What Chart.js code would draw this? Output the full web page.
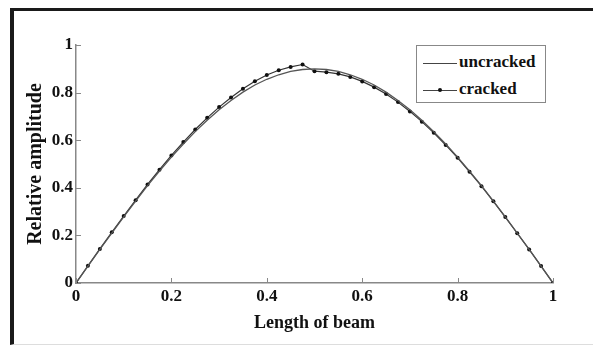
<!DOCTYPE html>
<html>
<head>
<meta charset="utf-8">
<script src="https://cdn.jsdelivr.net/npm/chart.js@4/dist/chart.umd.min.js"></script>
<style>
html,body{margin:0;padding:0;background:#fff}
#frame{position:absolute;left:10px;top:8px;width:583px;height:337px;border-top:3px solid #1a1a1a;border-left:4px solid #1a1a1a;border-bottom:1px solid #ddd;box-sizing:border-box}
#wrap{position:absolute;left:0;top:0;width:593px;height:345px}
#legend{position:absolute;left:416px;top:45px;width:130px;height:58px;border:1px solid #888;background:#fff;box-sizing:border-box;font:bold 17px "Liberation Serif",serif;color:#111}
.row{position:absolute;left:6px;height:20px;line-height:20px;white-space:nowrap}
.ln{display:inline-block;position:relative;width:34px;height:1px;background:#444;vertical-align:middle;margin-right:2px}
.dot{position:absolute;left:15px;top:-2px;width:4px;height:4px;border-radius:50%;background:#111}
</style>
</head>
<body>
<div id="frame"></div>
<div id="wrap"><canvas id="c" width="593" height="345"></canvas></div>
<div id="legend">
<div class="row" style="top:6px"><span class="ln"></span>uncracked</div>
<div class="row" style="top:33px"><span class="ln"><span class="dot"></span></span>cracked</div>
</div>
<script>
// positions along the beam (every 0.025)
const xs=[0,0.025,0.05,0.075,0.1,0.125,0.15,0.175,0.2,0.225,0.25,0.275,0.3,0.325,0.35,0.375,0.4,0.425,0.45,0.475,0.5,
0.525,0.55,0.575,0.6,0.625,0.65,0.675,0.7,0.725,0.75,0.775,0.8,0.825,0.85,0.875,0.9,0.925,0.95,0.975,1]

const uncracked=[0,0.071,0.141,0.210,0.278,0.344,0.409,0.470,0.529,0.584,0.636,0.684,0.728,0.767,0.802,0.832,0.856,0.875,0.889,0.897,0.900,
0.897,0.889,0.875,0.856,0.832,0.802,0.767,0.728,0.684,0.636,0.584,0.529,0.470,0.409,0.344,0.278,0.210,0.141,0.071,0]

const cracked=[0,0.072,0.143,0.213,0.281,0.348,0.414,0.476,0.536,0.592,0.645,0.694,0.739,0.779,0.816,0.848,0.874,0.894,0.908,0.918,0.890,
0.886,0.879,0.866,0.847,0.823,0.794,0.760,0.721,0.678,0.631,0.580,0.526,0.467,0.407,0.343,0.277,0.209,0.141,0.071,0]

const tickVals=[0,0.2,0.4,0.6,0.8,1]

const labelFont={family:"'Liberation Serif', serif",size:17,weight:"bold"}

// "0.2" style labels, "0" and "1" without decimals
function fmt(v){return String(Number(v.toFixed(1)))}

// ticks drawn inward, like the original
const inwardTicks={
id:"inwardTicks",
afterDraw(chart){
const ctx=chart.ctx
const a=chart.chartArea
const sx=chart.scales.x
const sy=chart.scales.y
ctx.save()
ctx.strokeStyle="#888"
ctx.lineWidth=1
tickVals.forEach(v=>{
let px=Math.round(sx.getPixelForValue(v))+0.5
ctx.beginPath();ctx.moveTo(px,a.bottom);ctx.lineTo(px,a.bottom-5);ctx.stroke()
let py=Math.round(sy.getPixelForValue(v))+0.5
ctx.beginPath();ctx.moveTo(a.left,py);ctx.lineTo(a.left+5,py);ctx.stroke()
})
ctx.restore()
}
}

new Chart(document.getElementById("c"),{
type:"line",
data:{
datasets:[{
label:"uncracked",
data:xs.map((x,i)=>({x:x,y:uncracked[i]})),
borderColor:"#555",
borderWidth:1.3,
pointRadius:0,
tension:0
},{
label:"cracked",
data:xs.map((x,i)=>({x:x,y:cracked[i]})),
borderColor:"#333",
borderWidth:1.2,
pointRadius:2,
pointBackgroundColor:"#111",
pointBorderWidth:0,
tension:0
}]
},
options:{
responsive:false,
animation:false,
layout:{padding:{top:45,right:40,left:24,bottom:10}},
plugins:{legend:{display:false},tooltip:{enabled:false}},
scales:{
x:{
type:"linear",
min:0,max:1,
ticks:{stepSize:0.2,color:"#111",font:labelFont,padding:3,callback:fmt},
grid:{display:false,drawTicks:false},
border:{display:true,color:"#888",width:1.5},
title:{display:true,text:"Length of beam",color:"#111",font:{family:"'Liberation Serif', serif",size:18,weight:"bold"},padding:{top:0,bottom:1}},
afterFit(s){s.height=52}
},
y:{
min:0,max:1,
ticks:{stepSize:0.2,color:"#111",font:labelFont,padding:3,callback:fmt},
grid:{display:false,drawTicks:false},
border:{display:true,color:"#888",width:1.5},
title:{display:true,text:"Relative amplitude",color:"#111",font:{family:"'Liberation Serif', serif",size:20,weight:"bold"},padding:{top:0,bottom:0}},
afterFit(s){s.width=52}
}
}
},
plugins:[inwardTicks]
})
</script>
</body>
</html>
